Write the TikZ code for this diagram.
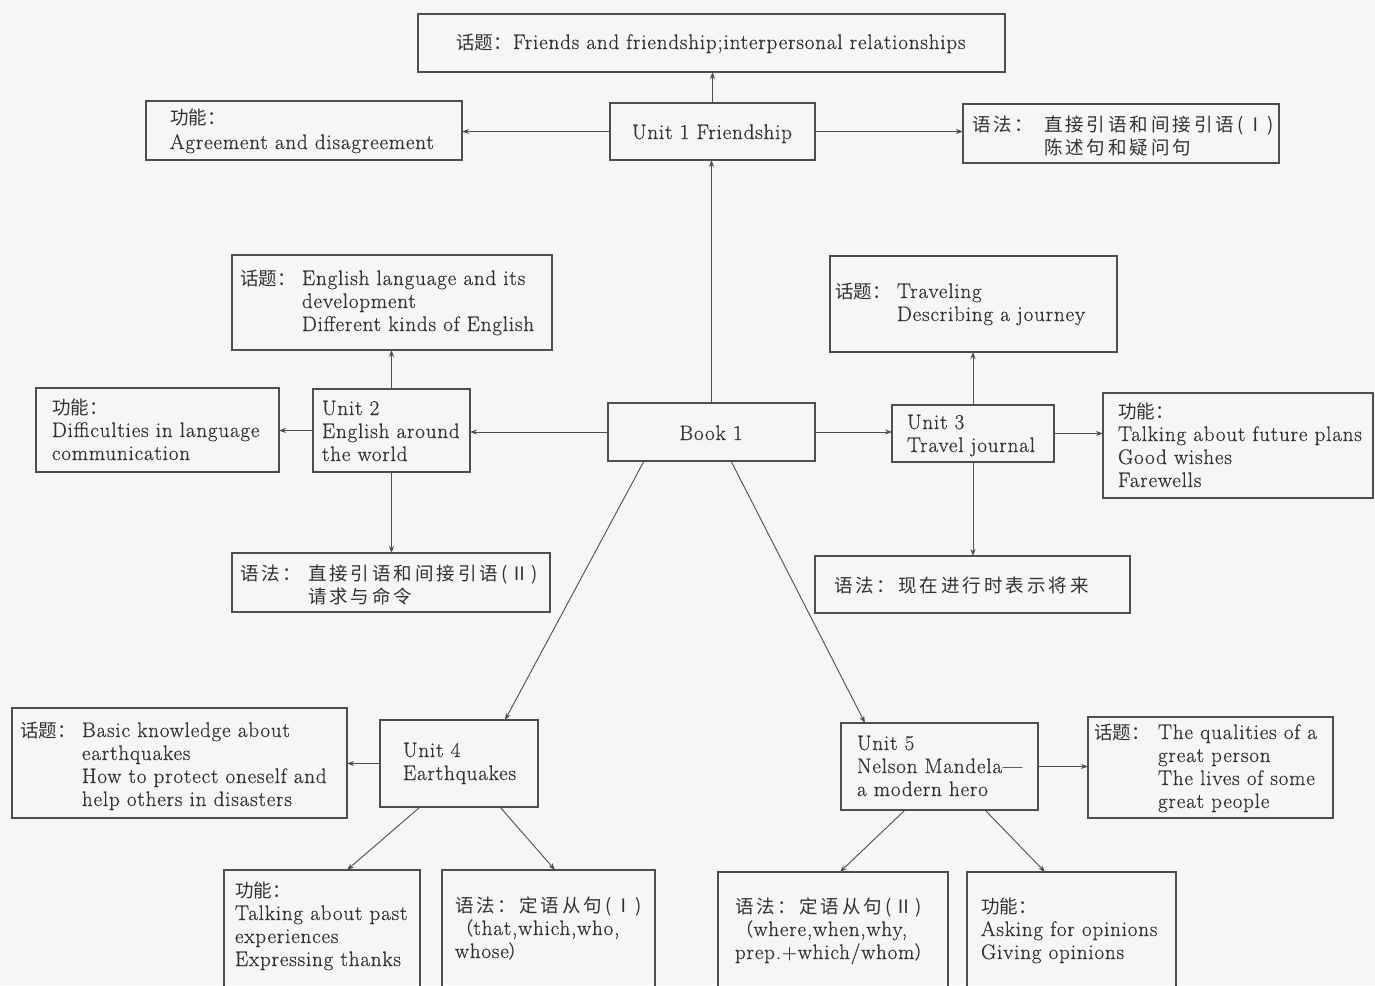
\documentclass[tikz,border=0pt]{standalone}
\usepackage{fontspec}
\setmainfont{Latin Modern Roman}[LetterSpace=4,FakeBold=0.5]
\newfontfamily\cjk{Noto Sans CJK SC}
\newfontfamily\cjkw{Noto Sans CJK SC}[LetterSpace=16]
\usetikzlibrary{arrows.meta}
\definecolor{linec}{RGB}{78,78,78}
\definecolor{textc}{RGB}{50,50,50}
\definecolor{bgc}{RGB}{246,246,246}
\newcommand\fs{\fontsize{21}{23}\selectfont}
\newcommand\zh[1]{{\fontsize{18.5}{23}\cjk #1}}
\newcommand\zw[1]{{\fontsize{18.5}{23}\cjkw #1}}
\newcommand\rows[1]{\begin{tabular}[t]{@{}l@{}}#1\end{tabular}}
\newcommand\mybox[5]{\node[box,minimum width={(#4-#2)*1pt},minimum height={(#5-#3)*1pt}] (#1) at ({(#2+#4)/2},{(#3+#5)/2}) {};}
\newcommand\mytxt[4]{\node[txt] (#1) at (#2,#3) {#4};}
\begin{document}
\begin{tikzpicture}[x=1pt,y=-1pt,
  box/.style={draw=linec,line width=1.1pt,inner sep=0pt,outer sep=0pt},
  txt/.style={inner sep=0pt,outer sep=0pt,anchor=base west,text=textc,font=\fs},
  arr/.style={draw=linec,line width=0.9pt,-{Stealth[length=7pt,width=5pt]}}]
\clip (0,0) rectangle (1375,985);
\fill[bgc] (0,0) rectangle (1375,985);
% boxes
\mybox{ttop}{418}{14}{1005}{72}
\mybox{u1}{610}{103}{815}{160}
\mybox{f1}{146}{101}{462}{160}
\mybox{g1}{963}{104}{1279}{163}
\mybox{t2}{232}{255}{552}{350}
\mybox{f2}{36}{388}{279}{472}
\mybox{u2}{313}{389}{470}{472}
\mybox{b1}{608}{403}{815}{461}
\mybox{u3}{892}{405}{1054}{462}
\mybox{t3}{830}{256}{1117}{352}
\mybox{f3}{1103}{393}{1373}{498}
\mybox{g2}{232}{553}{550}{612}
\mybox{g3}{815}{556}{1130}{613}
\mybox{t4}{12}{708}{347}{818}
\mybox{u4}{380}{720}{538}{807}
\mybox{u5}{841}{723}{1038}{810}
\mybox{t5}{1088}{717}{1333}{818}
\mybox{f4}{224}{870}{420}{1000}
\mybox{g4}{442}{870}{655}{1000}
\mybox{g5}{718}{872}{948}{1000}
\mybox{f5}{967}{872}{1176}{1000}
% texts
\mytxt{ttopa}{456}{49}{\zh{话题：}}
\mytxt{ttopb}{513}{49}{Friends and friendship;interpersonal relationships}
\mytxt{u1t}{632}{139}{Unit 1 Friendship}
\mytxt{f1a}{170}{124}{\zh{功能：}}
\mytxt{f1b}{170}{149}{Agreement and disagreement}
\mytxt{g1a}{972}{131}{\zw{语法：}}
\mytxt{g1b}{1044}{131}{\rows{\zw{直接引语和间接引语(Ⅰ)}\\\zw{陈述句和疑问句}}}
\mytxt{t2a}{240}{285}{\zh{话题：}}
\mytxt{t2b}{302}{285}{\rows{English language and its\\development\\Different kinds of English}}
\mytxt{f2t}{52}{414}{\rows{\zh{功能：}\\Difficulties in language\\communication}}
\mytxt{u2t}{322}{415}{\rows{Unit 2\\English around\\the world}}
\node[txt,anchor=base] (b1t) at (711,440) {Book 1};
\mytxt{u3t}{907}{429}{\rows{Unit 3\\Travel journal}}
\mytxt{t3a}{835}{298}{\zh{话题：}}
\mytxt{t3b}{897}{298}{\rows{Traveling\\Describing a journey}}
\mytxt{f3t}{1118}{418}{\rows{\zh{功能：}\\Talking about future plans\\Good wishes\\Farewells}}
\mytxt{g2a}{240}{580}{\zw{语法：}}
\mytxt{g2b}{308}{580}{\rows{\zw{直接引语和间接引语(Ⅱ)}\\\zw{请求与命令}}}
\mytxt{g3t}{834}{592}{\zw{语法：现在进行时表示将来}}
\mytxt{t4a}{20}{737}{\zh{话题：}}
\mytxt{t4b}{82}{737}{\rows{Basic knowledge about\\earthquakes\\How to protect oneself and\\help others in disasters}}
\mytxt{u4t}{403}{757}{\rows{Unit 4\\Earthquakes}}
\mytxt{u5t}{857}{750}{\rows{Unit 5\\Nelson Mandela---\\a modern hero}}
\mytxt{t5a}{1094}{739}{\zh{话题：}}
\mytxt{t5b}{1158}{739}{\rows{The qualities of a\\great person\\The lives of some\\great people}}
\mytxt{f4t}{235}{897}{\rows{\zh{功能：}\\Talking about past\\experiences\\Expressing thanks}}
\mytxt{g4t}{455}{912}{\rows{\zw{语法：定语从句(Ⅰ)}\\\zh{（}that,which,who,\\whose\zh{）}}}
\mytxt{g5t}{735}{913}{\rows{\zw{语法：定语从句(Ⅱ)}\\\zh{（}where,when,why,\\prep.+which/whom\zh{）}}}
\mytxt{f5t}{981}{913}{\rows{\zh{功能：}\\Asking for opinions\\Giving opinions}}
% connectors
\draw[arr] (u1.north) -- (u1.north |- ttop.south);
\draw[arr] (u1.west) -- (u1.west -| f1.east);
\draw[arr] (u1.east) -- (u1.east -| g1.west);
\draw[arr] (b1.north) -- (b1.north |- u1.south);
\draw[arr] (b1.west) -- (b1.west -| u2.east);
\draw[arr] (u2.west) -- (u2.west -| f2.east);
\draw[arr] (u2.north) -- (u2.north |- t2.south);
\draw[arr] (u2.south) -- (u2.south |- g2.north);
\draw[arr] (b1.east) -- (b1.east -| u3.west);
\draw[arr] (u3.north) -- (u3.north |- t3.south);
\draw[arr] (u3.east) -- (u3.east -| f3.west);
\draw[arr] (u3.south) -- (u3.south |- g3.north);
\draw[arr] ([xshift=36pt]b1.south west) -- ([xshift=125pt]u4.north west);
\draw[arr] ([xshift=123pt]b1.south west) -- ([xshift=24pt]u5.north west);
\draw[arr] (u4.west) -- (u4.west -| t4.east);
\draw[arr] ([xshift=40pt]u4.south west) -- ([xshift=123pt]f4.north west);
\draw[arr] ([xshift=120pt]u4.south west) -- ([xshift=113pt]g4.north west);
\draw[arr] (u5.east) -- (u5.east -| t5.west);
\draw[arr] ([xshift=64pt]u5.south west) -- ([xshift=122pt]g5.north west);
\draw[arr] ([xshift=144pt]u5.south west) -- ([xshift=78pt]f5.north west);
\end{tikzpicture}
\end{document}
